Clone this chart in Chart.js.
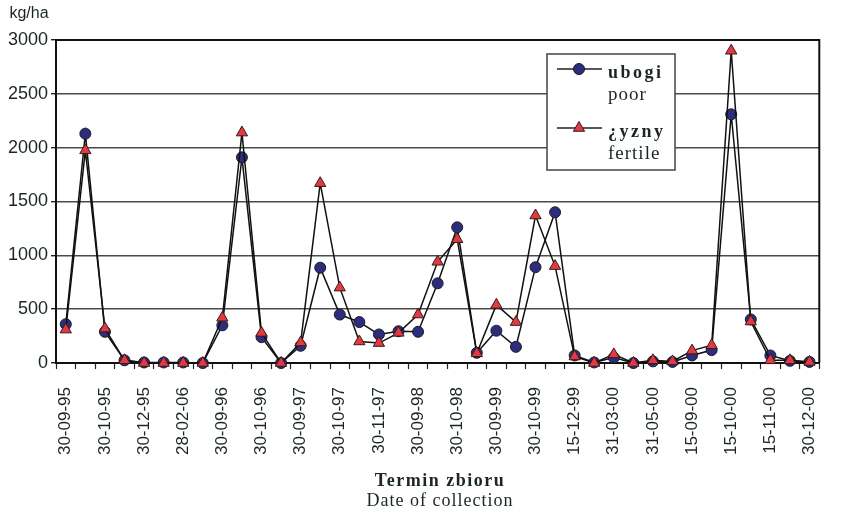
<!DOCTYPE html>
<html>
<head>
<meta charset="utf-8">
<script src="https://cdn.jsdelivr.net/npm/chart.js@4/dist/chart.umd.min.js"></script>
<style>
  html, body { margin: 0; padding: 0; background: #ffffff; }
  #wrap { width: 848px; height: 518px; }
</style>
</head>
<body>
<div id="wrap"><canvas id="c" width="848" height="518"></canvas></div>
<script>
// Collection dates shown under the axis (every second sampling)
const tickLabels = ['30-09-95','30-10-95','30-12-95','28-02-06','30-09-96','30-10-96',
  '30-09-97','30-10-97','30-11-97','30-09-98','30-10-98','30-09-99','30-10-99',
  '15-12-99','31-03-00','31-05-00','15-09-00','15-10-00','15-11-00','30-12-00'];

// Yield, kg/ha
const poorValues = [360, 2130, 290, 25, 5, 5, 5, 0, 350, 1910, 240, 0,
  160, 885, 450, 380, 265, 295, 290, 740, 1260, 95, 300, 150, 890, 1400,
  70, 5, 50, 0, 15, 10, 70, 120, 2310, 405, 70, 20, 10];
const fertileValues = [310, 1975, 320, 25, 0, 0, 0, 0, 420, 2140, 280, 0,
  190, 1670, 700, 200, 185, 280, 450, 940, 1150, 90, 540, 380, 1370, 900,
  60, 0, 80, 0, 25, 15, 115, 165, 2900, 385, 25, 25, 10];

const seriesNames = [['ubogi', 'poor'], ['¿yzny', 'fertile']];
const unitLabel = 'kg/ha';
const axisTitle = ['Termin zbioru', 'Date of collection'];

// one category per sampling; only every second one carries a date
const categories = poorValues.map((_, i) => (i % 2 === 0 ? tickLabels[i / 2] : ''));

const TEXT = '#1c2626';
const SANS = '"Liberation Sans", Arial, sans-serif';
const SERIF = '"Liberation Serif", "Times New Roman", serif';

const decor = {
  id: 'decor',
  afterDraw(chart) {
    const ctx = chart.ctx;
    const a = chart.chartArea;
    ctx.save();
    // frame on top and right
    ctx.strokeStyle = '#111';
    ctx.lineWidth = 2;
    ctx.beginPath();
    ctx.moveTo(a.left, a.top);
    ctx.lineTo(a.right, a.top);
    ctx.lineTo(a.right, a.bottom);
    ctx.stroke();

    // unit label
    ctx.fillStyle = TEXT;
    ctx.font = '16px ' + SANS;
    ctx.textAlign = 'center';
    ctx.textBaseline = 'middle';
    ctx.fillText(unitLabel, 29, 14);

    // axis title (two lines)
    ctx.font = 'bold 18px ' + SERIF;
    ctx.letterSpacing = '1.5px';
    ctx.fillText(axisTitle[0], 440, 481);
    ctx.font = '18px ' + SERIF;
    ctx.letterSpacing = '1px';
    ctx.fillText(axisTitle[1], 440, 501);

    // legend box
    const bx = 547, by = 54, bw = 128, bh = 116;
    ctx.letterSpacing = '0px';
    ctx.fillStyle = '#ffffff';
    ctx.fillRect(bx, by, bw, bh);
    ctx.strokeStyle = '#444';
    ctx.lineWidth = 1.5;
    ctx.strokeRect(bx, by, bw, bh);
    const rows = [69, 128];
    chart.data.datasets.forEach((ds, i) => {
      const y = rows[i];
      ctx.strokeStyle = '#222';
      ctx.lineWidth = 1.5;
      ctx.beginPath();
      ctx.moveTo(557, y);
      ctx.lineTo(602, y);
      ctx.stroke();
      ctx.fillStyle = ds.pointBackgroundColor;
      ctx.strokeStyle = ds.pointBorderColor;
      ctx.lineWidth = ds.pointBorderWidth;
      Chart.helpers.drawPoint(ctx, {
        pointStyle: ds.pointStyle,
        radius: ds.pointRadius,
        borderWidth: ds.pointBorderWidth,
        rotation: 0
      }, 579, y);
      ctx.fillStyle = TEXT;
      ctx.textAlign = 'left';
      ctx.textBaseline = 'alphabetic';
      ctx.font = 'bold 18px ' + SERIF;
      ctx.letterSpacing = '2.5px';
      ctx.fillText(seriesNames[i][0], 608, y + 9);
      ctx.font = '19px ' + SERIF;
      ctx.letterSpacing = '1px';
      ctx.fillText(seriesNames[i][1], 608, y + 31);
    });
    ctx.restore();
  }
};

new Chart(document.getElementById('c'), {
  type: 'line',
  data: {
    labels: categories,
    datasets: [
      {
        label: seriesNames[0].join(' '),
        data: poorValues,
        borderColor: '#111',
        borderWidth: 1.5,
        pointStyle: 'circle',
        pointRadius: 5.5,
        pointBackgroundColor: '#2d2d7c',
        pointBorderColor: '#1a1a2a',
        pointBorderWidth: 1,
        tension: 0,
        clip: false,
        order: 1
      },
      {
        label: seriesNames[1].join(' '),
        data: fertileValues,
        borderColor: '#111',
        borderWidth: 1.5,
        pointStyle: 'triangle',
        pointRadius: 6.5,
        pointBackgroundColor: '#e33a42',
        pointBorderColor: '#3a1a1a',
        pointBorderWidth: 1,
        tension: 0,
        clip: false,
        order: 0
      }
    ]
  },
  options: {
    responsive: false,
    animation: false,
    devicePixelRatio: 1,
    layout: { padding: { top: 40, right: 5, left: 0, bottom: 0 } },
    plugins: {
      legend: { display: false },
      tooltip: { enabled: false },
      title: { display: false }
    },
    scales: {
      x: {
        type: 'category',
        offset: true,
        afterFit(scale) { scale.height = 155; },
        grid: {
          offset: true,
          drawOnChartArea: false,
          drawTicks: true,
          tickLength: 6,
          tickColor: '#222',
          tickWidth: 1.2
        },
        border: { color: '#111', width: 2 },
        ticks: {
          autoSkip: false,
          maxRotation: 90,
          minRotation: 90,
          padding: 18,
          color: TEXT,
          font: { family: SANS, size: 17 }
        }
      },
      y: {
        min: 0,
        max: 3000,
        afterFit(scale) { scale.width = 56; },
        grid: {
          color: (c) => (c.tick && c.tick.value === 3000 ? 'rgba(0,0,0,0)' : '#4a4a4a'),
          lineWidth: 1.4,
          drawTicks: true,
          tickLength: 5,
          tickColor: '#222'
        },
        border: { color: '#111', width: 2 },
        ticks: {
          stepSize: 500,
          padding: 3,
          color: TEXT,
          font: { family: SANS, size: 18 },
          callback: (v) => String(v)
        }
      }
    }
  },
  plugins: [decor]
});
</script>
</body>
</html>
